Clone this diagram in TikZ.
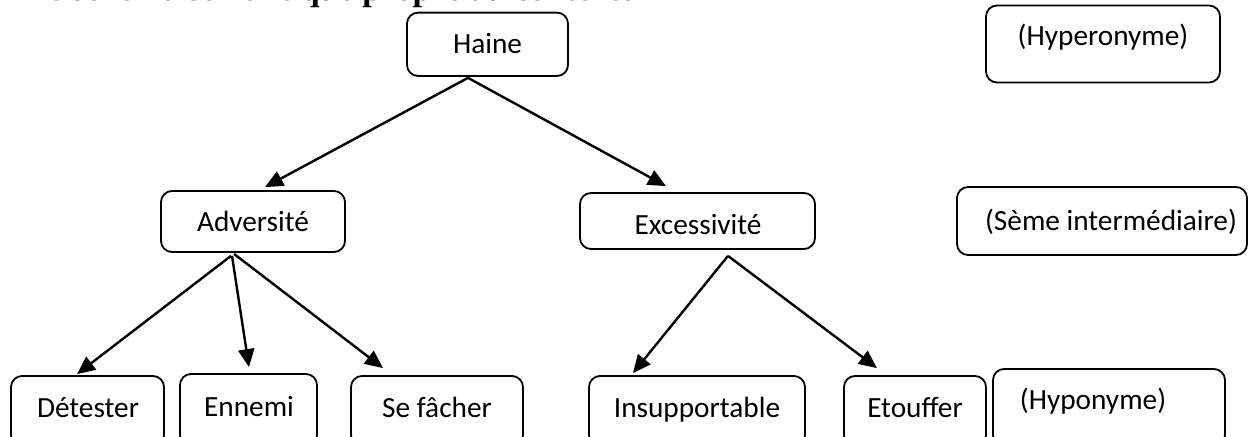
\documentclass[tikz,border=0pt]{standalone}
\usepackage{fontspec}
\setmainfont{Carlito}
\newfontfamily\titlefont{Liberation Serif}
\usetikzlibrary{arrows.meta,calc}
\tikzset{
  box/.style={draw, rectangle, line width=1.8pt, rounded corners=11pt, inner sep=0pt},
  lbl/.style={anchor=base, inner sep=0pt, font=\fontsize{29.3}{35}\selectfont},
  arr/.style={line width=2.4pt, -{Triangle[length=18pt,width=16pt]}},
}
\begin{document}
\begin{tikzpicture}[x=1pt,y=-1pt]
\useasboundingbox (0,0) rectangle (1249,436);
\clip (0,0) rectangle (1249,436);
% title (clipped at top)
\node[anchor=base west, inner sep=0pt, font=\titlefont\bfseries\fontsize{34}{40}\selectfont] (title) at (25,1) {Le schéma sémantique propre au contexte};
% boxes
\node[box, minimum width=161pt, minimum height=63.3pt] (haine) at (487.5,44.3) {};
\node[box, minimum width=234pt, minimum height=77pt] (hyper) at (1103,44) {};
\node[box, minimum width=184pt, minimum height=61pt] (adv) at (253,221.5) {};
\node[box, minimum width=235pt, minimum height=56pt] (exc) at (697.5,221) {};
\node[box, minimum width=290pt, minimum height=68pt] (seme) at (1102,221) {};
\node[box, minimum width=153pt, minimum height=70pt] (det) at (87.5,411) {};
\node[box, minimum width=137pt, minimum height=72pt] (enn) at (248.5,410) {};
\node[box, minimum width=172pt, minimum height=70pt] (sef) at (437,411) {};
\node[box, minimum width=216pt, minimum height=70pt] (ins) at (697,411) {};
\node[box, minimum width=142pt, minimum height=70pt] (eto) at (915,411) {};
\node[box, minimum width=232pt, minimum height=77pt] (hypo) at (1109,407.5) {};
% labels
\node[lbl] (hainet) at (487.5,53.5) {Haine};
\node[lbl] (hypert) at (1103,46) {(Hyperonyme)};
\node[lbl] (advt) at (253,231) {Adversité};
\node[lbl] (exct) at (698,234) {Excessivité};
\node[lbl] (semet) at (1111,230.5) {(Sème intermédiaire)};
\node[lbl] (dett) at (88,417) {Détester};
\node[lbl] (ennt) at (249,416) {Ennemi};
\node[lbl] (seft) at (437,417) {Se fâcher};
\node[lbl] (inst) at (697,417) {Insupportable};
\node[lbl] (etot) at (915,417) {Etouffer};
\node[lbl] (hypot) at (1093,409) {(Hyponyme)};
% connectors
\draw[arr] ($(haine.south)+(-19.5,1)$) -- ($(adv.north)+(12,-3)$);
\draw[arr] ($(haine.south)+(-19.5,1)$) -- ($(exc.north)+(-31.5,-6)$);
\draw[arr] ($(adv.south)+(-22,3)$) -- ($(det.north)+(-10.5,-1)$);
\draw[arr] ($(adv.south)+(-21,3)$) -- ($(enn.north)+(0.5,-6)$);
\draw[arr] ($(adv.south)+(-19,1)$) -- ($(sef.north)+(-54,-7)$);
\draw[arr] ($(exc.south)+(30.5,6)$) -- ($(ins.north)+(-64,-2)$);
\draw[arr] ($(exc.south)+(30.5,6)$) -- ($(eto.north)+(-38,-7)$);
\end{tikzpicture}
\end{document}
